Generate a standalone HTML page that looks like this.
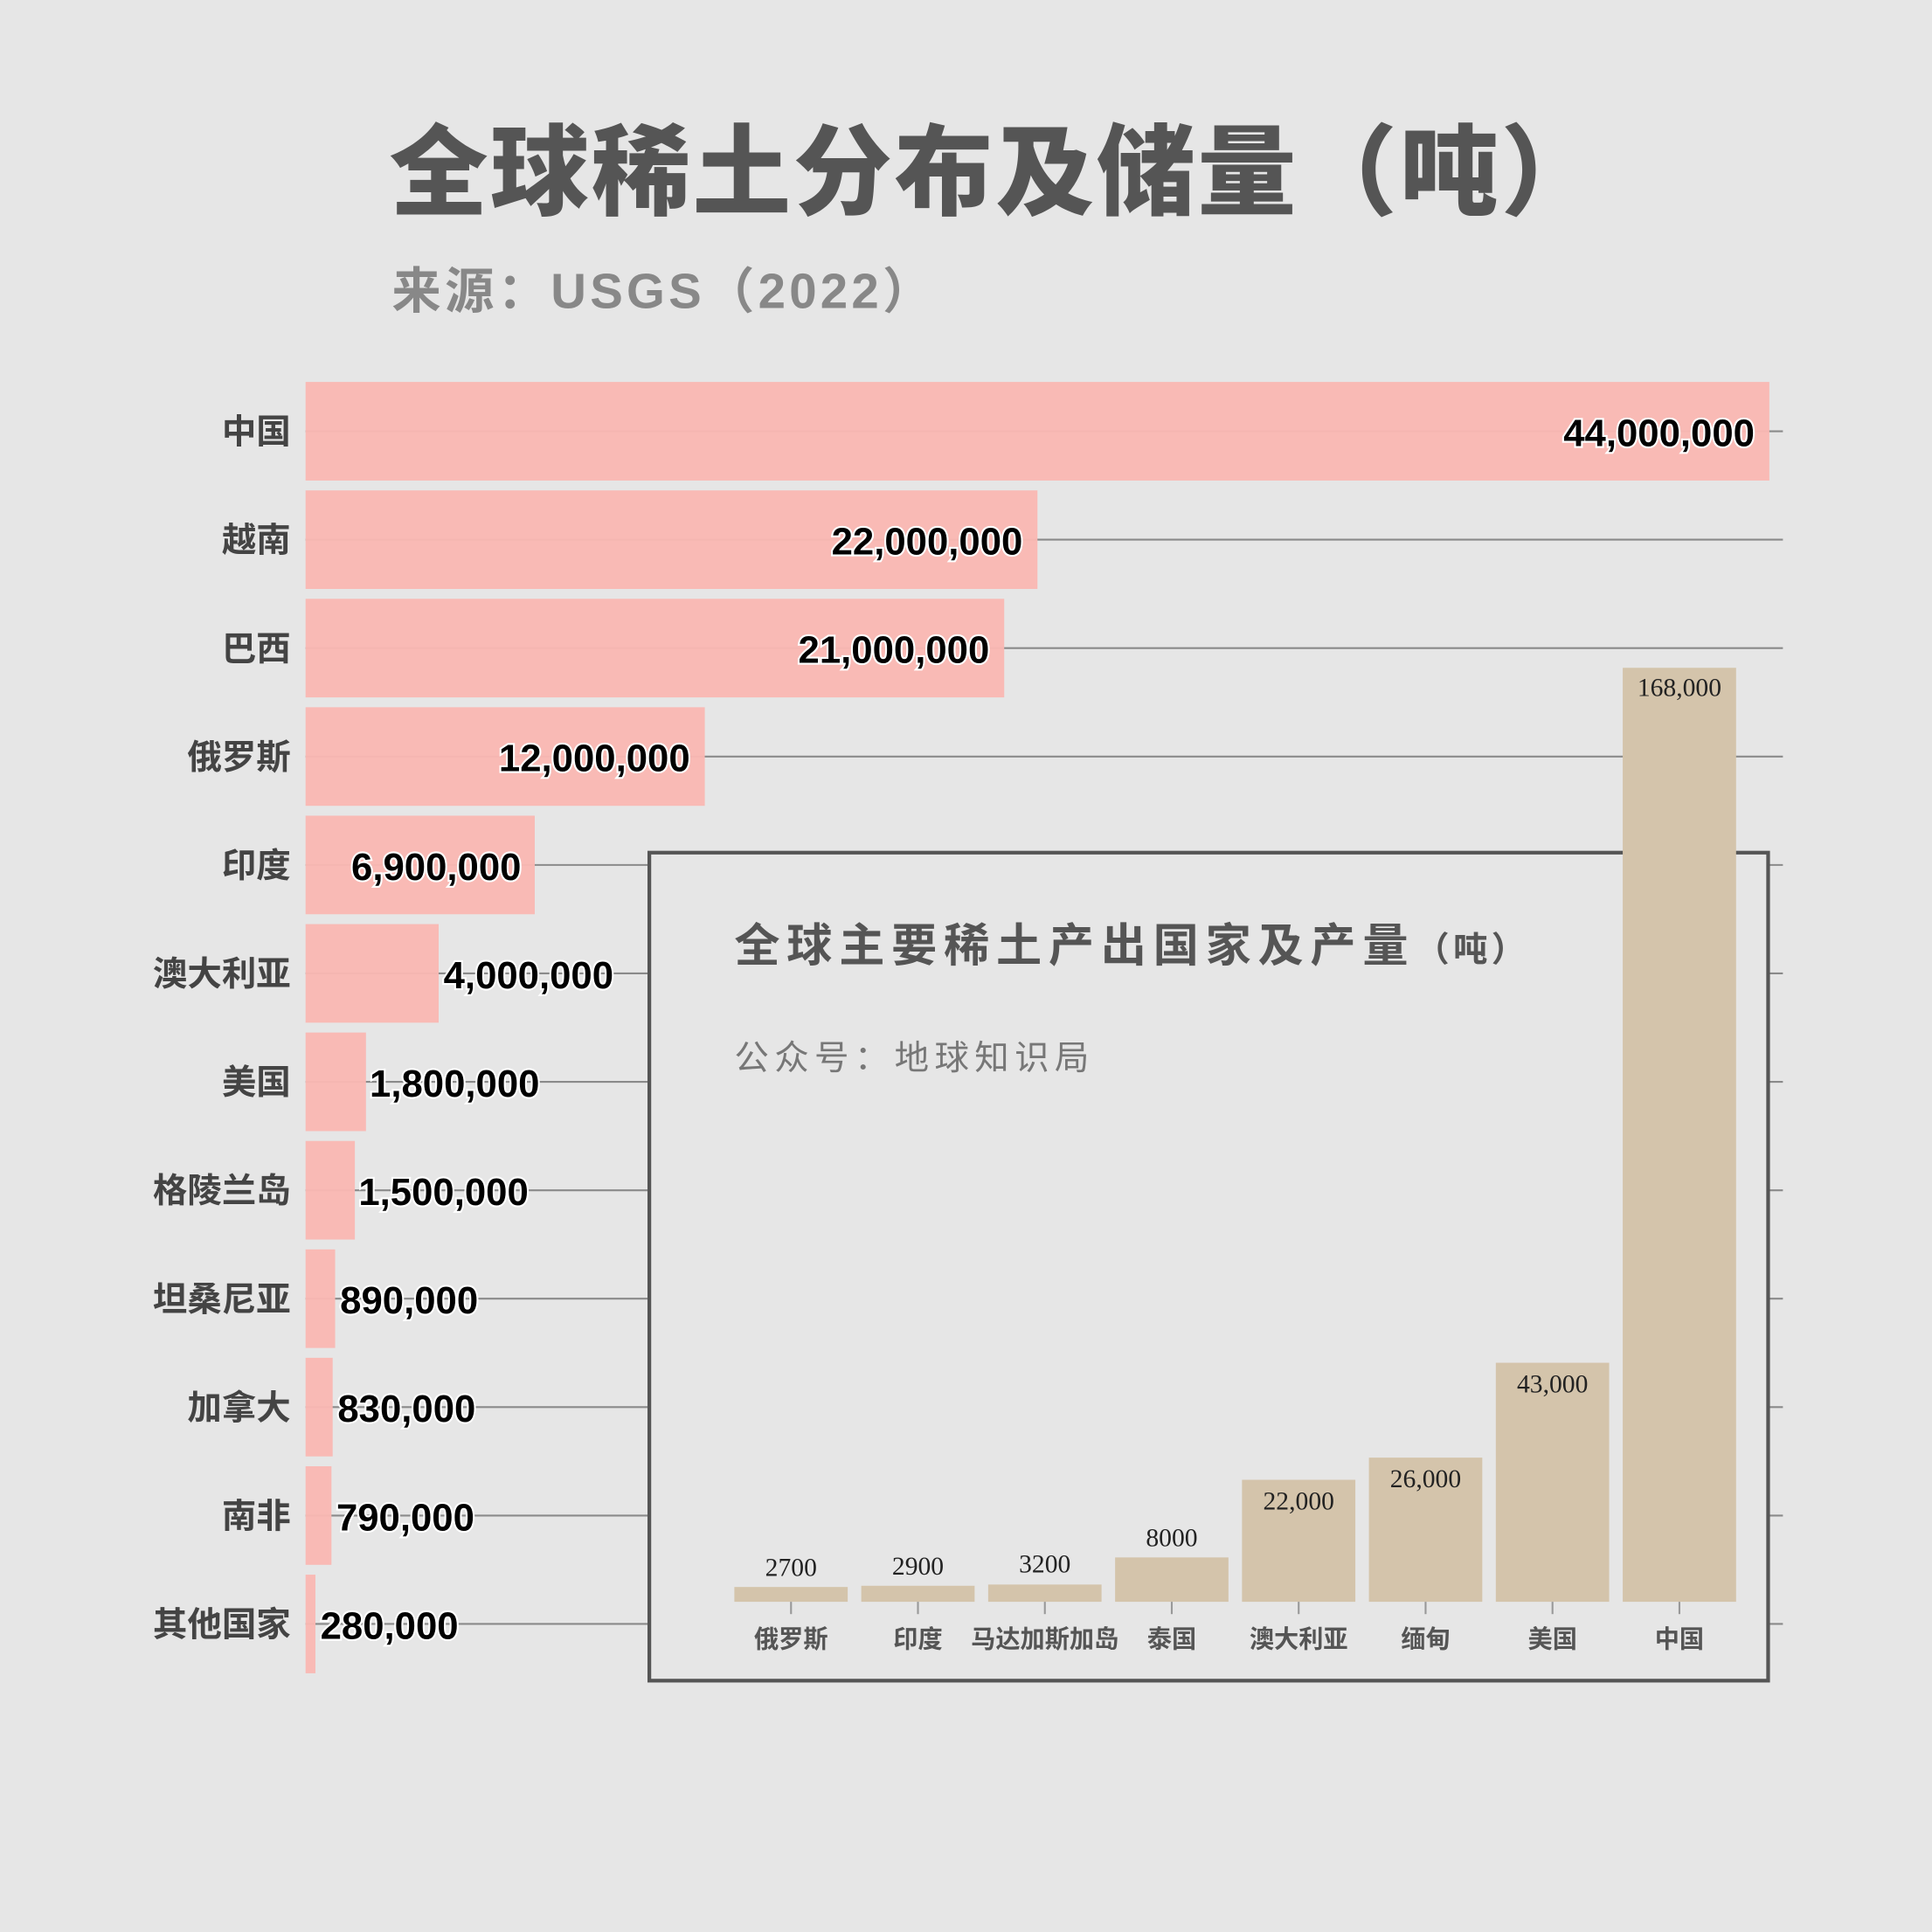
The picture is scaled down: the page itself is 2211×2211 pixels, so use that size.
<!DOCTYPE html>
<html><head><meta charset="utf-8"><style>html,body{margin:0;padding:0;background:#e6e6e6}svg{display:block}</style></head>
<body>
<svg width="2211" height="2211" viewBox="0 0 1568 1568" xmlns="http://www.w3.org/2000/svg" font-family="'Liberation Sans','Noto Sans CJK SC',sans-serif">
<rect width="1568" height="1568" fill="#e6e6e6"/>
<text x="316" y="168" font-size="80" font-weight="900" fill="#555" letter-spacing="2">全球稀土分布及储量（吨）</text>
<text x="318" y="250" font-size="40" font-weight="bold" fill="#888" letter-spacing="3">来源：USGS（2022）</text>
<g stroke="#8a8a8a" stroke-width="1.5">
<line x1="248" x2="1447" y1="350" y2="350"/><line x1="248" x2="1447" y1="438" y2="438"/><line x1="248" x2="1447" y1="526" y2="526"/><line x1="248" x2="1447" y1="614" y2="614"/><line x1="248" x2="1447" y1="702" y2="702"/><line x1="248" x2="1447" y1="790" y2="790"/><line x1="248" x2="1447" y1="878" y2="878"/><line x1="248" x2="1447" y1="966" y2="966"/><line x1="248" x2="1447" y1="1054" y2="1054"/><line x1="248" x2="1447" y1="1142" y2="1142"/><line x1="248" x2="1447" y1="1230" y2="1230"/><line x1="248" x2="1447" y1="1318" y2="1318"/>
</g>
<g fill="#f9b8b3" fill-opacity="0.97">
<rect x="248" y="310" width="1188" height="80"/><rect x="248" y="398" width="594" height="80"/><rect x="248" y="486" width="567" height="80"/><rect x="248" y="574" width="324" height="80"/><rect x="248" y="662" width="186" height="80"/><rect x="248" y="750" width="108" height="80"/><rect x="248" y="838" width="49" height="80"/><rect x="248" y="926" width="40" height="80"/><rect x="248" y="1014" width="24" height="80"/><rect x="248" y="1102" width="22" height="80"/><rect x="248" y="1190" width="21" height="80"/><rect x="248" y="1278" width="8" height="80"/>
</g>
<g font-size="28" font-weight="bold" fill="#444" text-anchor="end">
<text x="236" y="360">中国</text><text x="236" y="448">越南</text><text x="236" y="536">巴西</text><text x="236" y="624">俄罗斯</text><text x="236" y="712">印度</text><text x="236" y="800">澳大利亚</text><text x="236" y="888">美国</text><text x="236" y="976">格陵兰岛</text><text x="236" y="1064">坦桑尼亚</text><text x="236" y="1152">加拿大</text><text x="236" y="1240">南非</text><text x="236" y="1328">其他国家</text>
</g>
<g font-family="'Liberation Sans Narrow','Liberation Sans',sans-serif" font-size="31" font-weight="bold" fill="#000" stroke="#fff" stroke-width="3" paint-order="stroke">
<text x="1424" y="362" text-anchor="end">44,000,000</text><text x="830" y="450" text-anchor="end">22,000,000</text><text x="803" y="538" text-anchor="end">21,000,000</text><text x="560" y="626" text-anchor="end">12,000,000</text><text x="423" y="714" text-anchor="end">6,900,000</text>
<text x="360" y="802">4,000,000</text><text x="300" y="890">1,800,000</text><text x="291" y="978">1,500,000</text><text x="276" y="1066">890,000</text><text x="274" y="1154">830,000</text><text x="273" y="1242">790,000</text><text x="260" y="1330">280,000</text>
</g>
<rect x="527" y="692" width="908" height="672" fill="#e6e6e6" stroke="#555" stroke-width="3"/>
<text x="596" y="780" font-size="37" font-weight="bold" fill="#555" letter-spacing="5.5">全球主要稀土产出国家及产量<tspan font-size="28" letter-spacing="3">（吨）</tspan></text>
<text x="596" y="868" font-size="28" fill="#777" letter-spacing="4.5">公众号：地球知识局</text>
<g fill="#d4c4ab">
<rect x="596" y="1288" width="92" height="12"/><rect x="699" y="1287" width="92" height="13"/><rect x="802" y="1286" width="92" height="14"/><rect x="905" y="1264" width="92" height="36"/><rect x="1008" y="1201" width="92" height="99"/><rect x="1111" y="1183" width="92" height="117"/><rect x="1214" y="1106" width="92" height="194"/><rect x="1317" y="542" width="92" height="758"/>
</g>
<g stroke="#999" stroke-width="1.5"><line x1="642" x2="642" y1="1300" y2="1310"/><line x1="745" x2="745" y1="1300" y2="1310"/><line x1="848" x2="848" y1="1300" y2="1310"/><line x1="951" x2="951" y1="1300" y2="1310"/><line x1="1054" x2="1054" y1="1300" y2="1310"/><line x1="1157" x2="1157" y1="1300" y2="1310"/><line x1="1260" x2="1260" y1="1300" y2="1310"/><line x1="1363" x2="1363" y1="1300" y2="1310"/></g>
<g font-family="'Liberation Serif',serif" font-size="21" fill="#222" text-anchor="middle">
<text x="642" y="1279">2700</text><text x="745" y="1278">2900</text><text x="848" y="1276">3200</text><text x="951" y="1255">8000</text><text x="1054" y="1225">22,000</text><text x="1157" y="1207">26,000</text><text x="1260" y="1130">43,000</text><text x="1363" y="565">168,000</text>
</g>
<g font-size="20" font-weight="bold" fill="#555" text-anchor="middle">
<text x="642" y="1337">俄罗斯</text><text x="745" y="1337">印度</text><text x="848" y="1337">马达加斯加岛</text><text x="951" y="1337">泰国</text><text x="1054" y="1337">澳大利亚</text><text x="1157" y="1337">缅甸</text><text x="1260" y="1337">美国</text><text x="1363" y="1337">中国</text>
</g>
</svg>
</body></html>
